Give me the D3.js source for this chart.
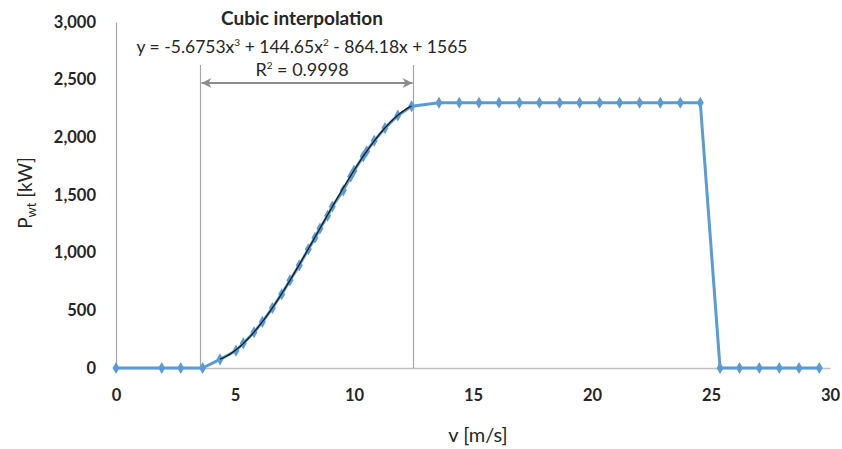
<!DOCTYPE html>
<html>
<head>
<meta charset="utf-8">
<script src="https://cdn.jsdelivr.net/npm/d3@7"></script>
<style>
    body { margin: 0; background: #fff; }
    #chart { width: 842px; height: 449px; }
    text { font-family: Lato, "Open Sans", sans-serif; fill: #262626; }
</style>
</head>
<body>
<div id="chart"></div>
<script>
// wind speed (m/s) and turbine power (kW)
const windSpeed = [0, 1.92, 2.72, 3.64, 4.37, 5.04, 5.35, 5.80, 6.15, 6.57, 6.96, 7.31, 7.70, 8.08, 8.36,
    8.57, 8.89, 9.09, 9.55, 9.86, 10.0, 10.39, 10.53, 10.85, 11.30, 11.84, 12.42,
    13.57, 14.42, 15.25, 16.09, 16.95, 17.79, 18.64, 19.48, 20.32, 21.16, 22.0, 22.87, 23.71, 24.55,
    25.38, 26.2, 27.03, 27.87, 28.7, 29.55];
const power = [0, 0, 0, 0, 75, 150, 215, 310, 400, 520, 640, 760, 890, 1030, 1130,
    1210, 1320, 1400, 1540, 1660, 1710, 1835, 1880, 1970, 2080, 2190, 2270,
    2300, 2300, 2300, 2300, 2300, 2300, 2300, 2300, 2300, 2300, 2300, 2300, 2300, 2300,
    0, 0, 0, 0, 0, 0];

// cubic trendline shown in the annotation (x^3, x^2, x, 1)
const trendCoefs = [-5.6753, 144.65, -864.18, 1565];
const trendRange = [4.37, 12.42];
const fitBounds = [3.55, 12.5];

const xTicks = [0, 5, 10, 15, 20, 25, 30];
const yTicks = [0, 500, 1000, 1500, 2000, 2500, 3000];

class PowerCurveChart {
    constructor(parentElement) {
        this.parentElement = parentElement;
        this.data = windSpeed.map((v, i) => ({v: v, p: power[i]}));
        this.initVis();
    }

    initVis() {
        let vis = this;

        vis.margin = {top: 22, right: 12, bottom: 81, left: 116};
        vis.width = 842 - vis.margin.left - vis.margin.right;
        vis.height = 449 - vis.margin.top - vis.margin.bottom;

        vis.svg = d3.select("#" + vis.parentElement)
            .append("svg")
            .attr("width", 842)
            .attr("height", 449)
            .append("g")
            .attr("transform", `translate(${vis.margin.left}, ${vis.margin.top})`);

        vis.x = d3.scaleLinear().domain([0, 30]).range([0, 714]);
        vis.y = d3.scaleLinear().domain([0, 3000]).range([vis.height, 0]);

        // axes, no tick marks
        vis.xAxis = d3.axisBottom(vis.x).tickValues(xTicks).tickSize(0).tickPadding(21)
            .tickFormat(d3.format("d"));
        vis.yAxis = d3.axisLeft(vis.y).tickValues(yTicks).tickSize(0).tickPadding(20)
            .tickFormat(d3.format(","));

        vis.svg.append("g")
            .attr("class", "x-axis")
            .attr("transform", `translate(0, ${vis.height})`)
            .call(vis.xAxis);
        vis.svg.append("g")
            .attr("class", "y-axis")
            .call(vis.yAxis);

        vis.svg.selectAll(".x-axis .domain").attr("stroke", "#bfbfbf").attr("stroke-width", 1.5);
        vis.svg.selectAll(".y-axis .domain").attr("stroke", "#a6a6a6").attr("stroke-width", 1.2);
        vis.svg.selectAll(".tick text")
            .attr("font-size", 16.5)
            .attr("font-weight", "bold")
            .attr("fill", "#262626");

        // axis titles
        vis.svg.append("text")
            .attr("x", 478 - vis.margin.left)
            .attr("y", 442 - vis.margin.top)
            .attr("text-anchor", "middle")
            .attr("font-size", 20)
            .text("v [m/s]");

        let yTitle = vis.svg.append("text")
            .attr("transform", `translate(${-84}, ${vis.y(1500) - 2}) rotate(-90)`)
            .attr("text-anchor", "middle")
            .attr("font-size", 19);
        yTitle.append("tspan").text("P");
        yTitle.append("tspan").attr("font-size", 13).attr("dy", 4).text("wt");
        yTitle.append("tspan").attr("dy", -4).text(" [kW]");

        vis.drawAnnotation();
        vis.updateVis();
    }

    drawAnnotation() {
        let vis = this;
        const lineColor = "#a6a6a6";
        const top = 65 - vis.margin.top;
        const arrowY = 83 - vis.margin.top;

        // bounds of the fitted range
        vis.svg.selectAll(".bound")
            .data(fitBounds)
            .enter()
            .append("line")
            .attr("class", "bound")
            .attr("x1", d => vis.x(d))
            .attr("x2", d => vis.x(d))
            .attr("y1", top)
            .attr("y2", vis.height)
            .attr("stroke", lineColor)
            .attr("stroke-width", 1.2);

        vis.svg.append("defs")
            .append("marker")
            .attr("id", "arrowHead")
            .attr("viewBox", "0 0 10 10")
            .attr("refX", 10)
            .attr("refY", 5)
            .attr("markerWidth", 6)
            .attr("markerHeight", 5)
            .attr("markerUnits", "strokeWidth")
            .attr("orient", "auto-start-reverse")
            .append("path")
            .attr("d", "M0,0 L10,5 L0,10 L3,5 Z")
            .attr("fill", "#8c8c8c");

        vis.svg.append("line")
            .attr("x1", vis.x(fitBounds[0]) + 1)
            .attr("x2", vis.x(fitBounds[1]) - 1)
            .attr("y1", arrowY)
            .attr("y2", arrowY)
            .attr("stroke", "#8c8c8c")
            .attr("stroke-width", 2)
            .attr("marker-start", "url(#arrowHead)")
            .attr("marker-end", "url(#arrowHead)");

        const cx = 302 - vis.margin.left;

        vis.svg.append("text")
            .attr("x", cx)
            .attr("y", 25 - vis.margin.top)
            .attr("text-anchor", "middle")
            .attr("font-size", 19)
            .attr("font-weight", "bold")
            .text("Cubic interpolation");

        let eq = vis.svg.append("text")
            .attr("x", cx)
            .attr("y", 53 - vis.margin.top)
            .attr("text-anchor", "middle")
            .attr("font-size", 17.5);
        eq.append("tspan").text("y = -5.6753x");
        eq.append("tspan").attr("font-size", 10).attr("dy", -7).text("3");
        eq.append("tspan").attr("dy", 7).text(" + 144.65x");
        eq.append("tspan").attr("font-size", 10).attr("dy", -7).text("2");
        eq.append("tspan").attr("dy", 7).text(" - 864.18x + 1565");

        let r2 = vis.svg.append("text")
            .attr("x", cx)
            .attr("y", 76 - vis.margin.top)
            .attr("text-anchor", "middle")
            .attr("font-size", 18);
        r2.append("tspan").text("R");
        r2.append("tspan").attr("font-size", 10).attr("dy", -7).text("2");
        r2.append("tspan").attr("dy", 7).text(" = 0.9998");
    }

    updateVis() {
        let vis = this;

        let line = d3.line()
            .x(d => vis.x(d.v))
            .y(d => vis.y(d.p));

        vis.svg.append("path")
            .datum(vis.data)
            .attr("fill", "none")
            .attr("stroke", "#5b9bd5")
            .attr("stroke-width", 3)
            .attr("stroke-linejoin", "round")
            .attr("d", line);

        vis.svg.selectAll(".pt")
            .data(vis.data)
            .enter()
            .append("path")
            .attr("class", "pt")
            .attr("transform", d => `translate(${vis.x(d.v)}, ${vis.y(d.p)})`)
            .attr("d", d3.symbol(d3.symbolDiamond, 42))
            .attr("fill", "#5b9bd5");

        // trendline from the cubic coefficients
        const cubic = v => trendCoefs[0] * v ** 3 + trendCoefs[1] * v ** 2 + trendCoefs[2] * v + trendCoefs[3];
        const trend = d3.range(trendRange[0], trendRange[1] + 0.001, 0.05).map(v => ({v: v, p: cubic(v)}));

        vis.svg.append("path")
            .datum(trend)
            .attr("fill", "none")
            .attr("stroke", "#1a1a1a")
            .attr("stroke-width", 1.3)
            .attr("d", line);
    }
}

new PowerCurveChart("chart");
</script>
</body>
</html>
